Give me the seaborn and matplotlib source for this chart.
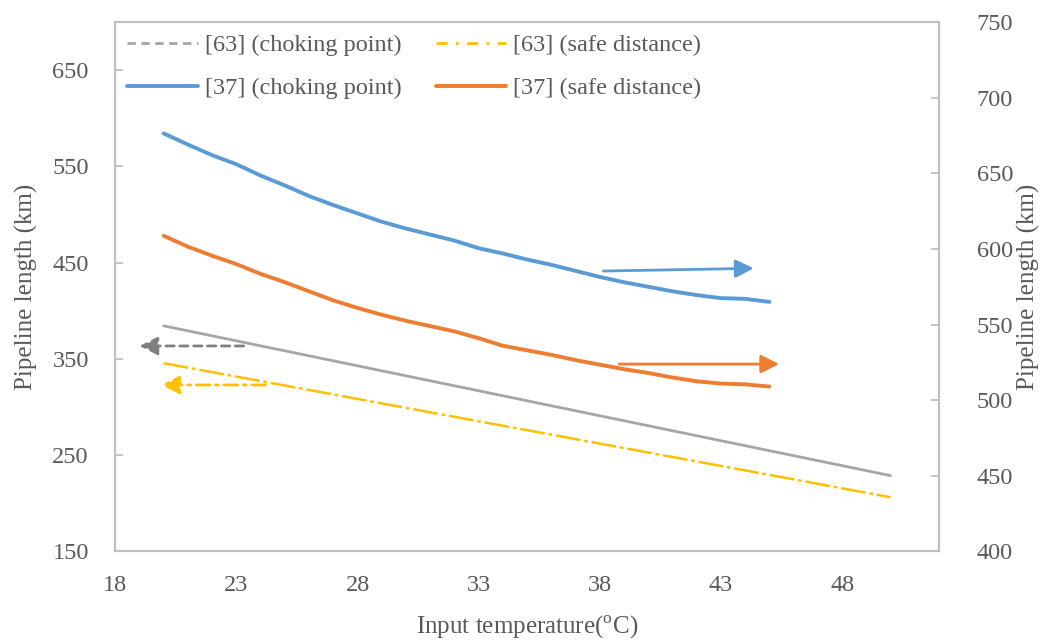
import matplotlib
matplotlib.use("Agg")
import matplotlib.pyplot as plt
from matplotlib.lines import Line2D
import seaborn as sns

# ---- data -------------------------------------------------------------
temp_37 = [20, 21, 22, 23, 24, 25, 26, 27, 28, 29, 30, 31, 32,
           33, 34, 35, 36, 37, 38, 39, 40, 41, 42, 43, 44, 45]
choke_37 = [676.4, 669.0, 662.0, 656.0, 648.5, 642.0, 635.0, 629.0, 623.5,
            618.0, 613.5, 609.5, 605.5, 600.5, 597.0, 593.0, 589.5, 585.5,
            581.5, 578.0, 575.0, 572.0, 569.5, 567.5, 567.0, 565.0]
safe_37 = [608.7, 601.5, 595.5, 590.0, 583.5, 578.0, 572.0, 566.0, 561.0,
           556.5, 552.5, 549.0, 545.5, 541.0, 536.0, 533.0, 530.0, 526.5,
           523.5, 520.5, 518.0, 515.0, 512.5, 511.0, 510.5, 509.0]

temp_63 = [20, 30, 40, 50]
choke_63 = [384.4, 332.5, 280.6, 228.8]
safe_63 = [345.6, 299.2, 252.8, 206.3]

x_ticks = [18, 23, 28, 33, 38, 43, 48]
left_ticks = [150, 250, 350, 450, 550, 650]
right_ticks = [400, 450, 500, 550, 600, 650, 700, 750]

labels = ["[63] (choking point)", "[63] (safe distance)",
          "[37] (choking point)", "[37] (safe distance)"]

# arrows pointing to the axis each pair of curves is read against
# (tail x, tip x, tail y, tip y)
arrow_choke_63 = (23.3, 19.0, 363.5, 363.5)
arrow_safe_63 = (24.2, 19.9, 323.0, 323.0)
arrow_choke_37 = (38.15, 44.35, 585.4, 587.2)
arrow_safe_37 = (38.8, 45.4, 523.9, 523.9)

# ---- style ------------------------------------------------------------
sns.set_style("white")
plt.rcParams["font.family"] = ["Liberation Serif", "DejaVu Serif"]
plt.rcParams["mathtext.fontset"] = "custom"
plt.rcParams["mathtext.rm"] = "Liberation Serif"

TEXT = "#595959"
FRAME = "#BFBFBF"
BLUE = "#5B9BD5"
ORANGE = "#ED7D31"
GRAY = "#A5A5A5"
DARKGRAY = "#7F7F7F"
YELLOW = "#FFC000"
FS = 17.5

fig = plt.figure(figsize=(10.43, 6.44), dpi=100)
ax = fig.add_axes([0.1105, 0.1437, 0.7898, 0.822])
ax2 = ax.twinx()

# left axis: [63]
sns.lineplot(x=temp_63, y=choke_63, ax=ax, color=GRAY, linewidth=2.0)
sns.lineplot(x=temp_63, y=safe_63, ax=ax, color=YELLOW, linewidth=1.8,
             linestyle=(0, (10, 1.5, 1.5, 1.5)))
# right axis: [37]
sns.lineplot(x=temp_37, y=choke_37, ax=ax2, color=BLUE, linewidth=2.8)
sns.lineplot(x=temp_37, y=safe_37, ax=ax2, color=ORANGE, linewidth=2.8)


def arrow(axis, spec, color, ls, lw):
    x0, x1, y0, y1 = spec
    axis.annotate("", xy=(x1, y1), xytext=(x0, y0),
                  arrowprops=dict(arrowstyle="-|>,head_length=1.0,head_width=0.5",
                                  mutation_scale=11, color=color, lw=lw,
                                  linestyle=ls, shrinkA=0, shrinkB=0))


arrow(ax, arrow_choke_63, DARKGRAY, (0, (3, 2)), 2.0)
arrow(ax, arrow_safe_63, YELLOW, (0, (5, 2, 1, 2)), 2.0)
arrow(ax2, arrow_choke_37, BLUE, "-", 2.0)
arrow(ax2, arrow_safe_37, ORANGE, "-", 2.0)

# ---- axes -------------------------------------------------------------
ax.set_xlim(18, 52)
ax.set_ylim(150, 700)
ax2.set_ylim(400, 750)
ax.set_xticks(x_ticks)
ax.set_yticks(left_ticks)
ax2.set_yticks(right_ticks)

for a in (ax, ax2):
    for s in a.spines.values():
        s.set_color(FRAME)
        s.set_linewidth(1.5)
    a.tick_params(direction="in", length=6, width=1.3, color=FRAME,
                  labelcolor=TEXT, labelsize=FS)
ax.tick_params(axis="x", pad=17)
ax.tick_params(axis="y", pad=19)
ax2.tick_params(axis="y", pad=27)

ax.set_xlabel(r"Input temperature($^{\rm o}$C)", color=TEXT, fontsize=FS + 0.5,
              labelpad=13)
ax.set_ylabel("Pipeline length (km)", color=TEXT, fontsize=FS + 0.5, labelpad=10)
ax2.set_ylabel("Pipeline length (km)", color=TEXT, fontsize=FS + 0.5, labelpad=3)

# ---- legend -----------------------------------------------------------
handles = [
    Line2D([], [], color=GRAY, lw=2.0, linestyle=(0, (3, 2))),
    Line2D([], [], color=BLUE, lw=2.8),
    Line2D([], [], color=YELLOW, lw=2.0, linestyle=(0, (4, 3, 1, 3))),
    Line2D([], [], color=ORANGE, lw=2.8),
]
order = [labels[0], labels[2], labels[1], labels[3]]
ax2.legend(handles, order, ncol=2, loc="upper left", frameon=False,
           fontsize=FS, labelcolor=TEXT, handlelength=2.9, handletextpad=0.3,
           columnspacing=1.4, labelspacing=0.85, borderaxespad=0.0,
           borderpad=0.4, bbox_to_anchor=(0.0025, 0.995))

fig.savefig("out.png", dpi=100)
